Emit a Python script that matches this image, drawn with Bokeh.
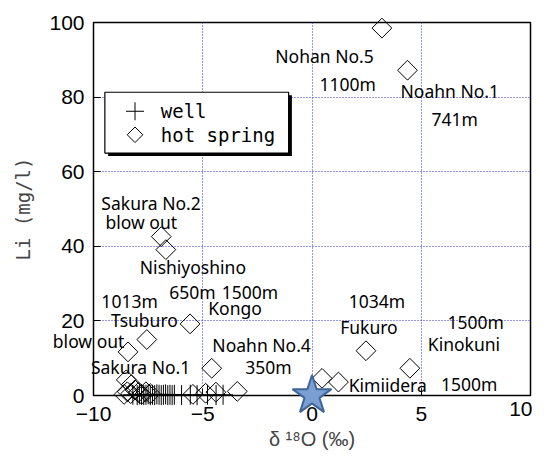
from bokeh.plotting import figure
from bokeh.models import Range1d, FixedTicker
from bokeh.core.properties import value
from bokeh.embed import file_html
from bokeh.resources import INLINE

# --- data ---
well_x = [-8.2, -8.0, -7.9, -7.8, -7.7, -7.6, -7.5, -7.4, -7.3, -7.2, -7.1, -7.0,
          -6.9, -6.8, -6.7, -6.6, -6.5, -6.4, -6.3, -5.97, -5.57, -5.26, -4.78, -4.39, -4.07]
well_y = [0.2, 0.1, 0.3, 0.2, 0.1, 0.2, 0.3, 0.1, 0.2, 0.1, 0.3, 0.2,
          0.1, 0.2, 0.3, 0.1, 0.2, 0.1, 0.2, 0.1, 0.2, 0.1, 0.2, 0.1, 0.2]

spring_x = [3.2, 4.37, -6.9, -6.69, -5.58, -7.56, -8.42, -4.59, 2.47, 4.48, 0.46, 1.21,
            -3.42, -8.5, -8.27, -8.6, -8.45, -8.3, -8.1, -7.95, -7.8, -7.6, -7.4,
            -5.45, -4.87, -4.4]
spring_y = [98.5, 87.2, 42.6, 39.1, 19.2, 15.0, 11.7, 7.3, 12.0, 7.3, 4.6, 3.6,
            1.1, 4.2, 2.9, 0.3, 1.0, 0.5, 1.5, 0.8, 0.3, 1.0, 0.5,
            0.3, 0.6, 0.9]

ref_x = [0.0]
ref_y = [0.0]

label_text = ["Nohan No.5", "1100m", "Noahn No.1", "741m", "Sakura No.2", "blow out",
              "Nishiyoshino", "1013m", "650m", "1500m", "Kongo", "1034m", "Tsuburo",
              "1500m", "Fukuro", "blow out", "Kinokuni", "Noahn No.4", "350m",
              "Sakura No.1", "Kimiidera", "1500m"]
label_x = [-1.68, 0.34, 4.05, 5.47, -9.64, -9.45, -7.88, -9.64, -6.53, -4.13, -4.75, 1.68,
           -9.2, 6.2, 1.29, -11.86, 5.3, -4.56, -3.06, -10.12, 1.68, 5.9]
label_y = [91.0, 83.6, 81.6, 74.0, 51.7, 46.4, 34.4, 25.4, 27.8, 27.8, 23.4, 25.4,
           20.3, 19.7, 18.4, 14.5, 13.7, 13.5, 7.7, 7.7, 2.9, 3.1]

legend_labels = ["well", "hot spring"]

x_ticks = [-10, -5, 0, 5, 10]
y_ticks = [0, 20, 40, 60, 80, 100]

TICK_FONT = "Liberation Sans"
TICK_SIZE = "21px"

# --- figure ---
p = figure(width=532, height=452, output_backend="svg", toolbar_location=None,
           x_range=Range1d(-10, 10), y_range=Range1d(0, 100),
           min_border_left=93, min_border_right=2, min_border_top=22, min_border_bottom=52)
p.outline_line_color = "black"
p.outline_line_width = 1.5
p.background_fill_color = "white"
p.border_fill_color = "white"

for ax in (p.xaxis[0], p.yaxis[0]):
    ax.major_tick_in = 7
    ax.major_tick_out = 0
    ax.minor_tick_line_color = None
    ax.axis_line_color = "black"
    ax.major_tick_line_color = "black"
    ax.major_label_text_font = TICK_FONT
    ax.major_label_text_font_size = TICK_SIZE
    ax.major_label_text_color = "black"

p.xaxis.ticker = FixedTicker(ticks=x_ticks)
p.yaxis.ticker = FixedTicker(ticks=y_ticks)
# the last x tick label is drawn right-aligned at the frame edge so it stays on the page
p.xaxis.major_label_overrides = {x_ticks[-1]: " "}
p.xaxis.major_label_standoff = 6
p.yaxis.major_label_standoff = 9

p.xaxis.axis_label = "δ ¹⁸O (‰)"
p.xaxis.axis_label_text_font = "Liberation Sans"
p.xaxis.axis_label_text_font_style = "normal"
p.xaxis.axis_label_text_font_size = "20px"
p.xaxis.axis_label_standoff = 0

p.yaxis.axis_label = "Li (mg/l)"
p.yaxis.axis_label_text_font = "DejaVu Sans Mono"
p.yaxis.axis_label_text_font_style = "normal"
p.yaxis.axis_label_text_font_size = "19px"
p.yaxis.axis_label_standoff = 12

p.xgrid.ticker = FixedTicker(ticks=[-5, 0, 5])
p.ygrid.ticker = FixedTicker(ticks=[20, 40, 60, 80])
p.grid.grid_line_color = "#2a2aee"
p.grid.grid_line_dash = "1 2"
p.grid.grid_line_width = 1

r_well = p.scatter(well_x, well_y, marker="cross", size=20, line_color="black", line_width=1)
r_spring = p.scatter(spring_x, spring_y, marker="square", angle=0.785398, size=14,
                     line_color="black", fill_alpha=0, line_width=1)
r_ref = p.scatter(ref_x, ref_y, marker="star", size=41, fill_color="#7b9fd3",
                  line_color="#3f659a", line_width=2)
r_text = p.text(x=label_x, y=label_y, text=label_text, text_align="left",
                text_baseline="middle", text_font=value("Noto Sans"),
                text_font_size="17.5px", text_color="black")
r_last = p.text(x=[x_ticks[-1]], y=[y_ticks[0]], text=[str(x_ticks[-1])], text_align="right",
                text_baseline="top", y_offset=6, x_offset=2, text_font=value(TICK_FONT),
                text_font_size=TICK_SIZE, text_color="black")

# --- legend (box with drop shadow, marker samples and labels) ---
lg_left, lg_right, lg_top, lg_bottom = -9.48, -1.07, 81.3, 65.0
r_shadow = p.quad(left=[lg_left + 0.15], right=[lg_right + 0.15], top=[lg_top - 0.8],
                  bottom=[lg_bottom - 0.8], fill_color="black", line_color=None)
r_box = p.quad(left=[lg_left], right=[lg_right], top=[lg_top], bottom=[lg_bottom],
               fill_color="white", line_color="black", line_width=1.2)
row_y = [76.2, 69.9]
lg_well = p.scatter([-8.1], [row_y[0]], marker="cross", size=18, line_color="black", line_width=1)
lg_spring = p.scatter([-8.1], [row_y[1]], marker="square", angle=0.785398, size=11,
                      line_color="black", fill_alpha=0, line_width=1)
lg_text = p.text(x=[-6.92, -6.92], y=row_y, text=legend_labels, text_align="left",
                 text_baseline="middle", text_font=value("DejaVu Sans Mono"),
                 text_font_size="19px", text_color="black")
for r in (r_well, r_spring, r_ref, r_text, r_last, r_shadow, r_box, lg_well, lg_spring, lg_text):
    r.level = "overlay"

open("out.html", "w").write(file_html(p, INLINE))
